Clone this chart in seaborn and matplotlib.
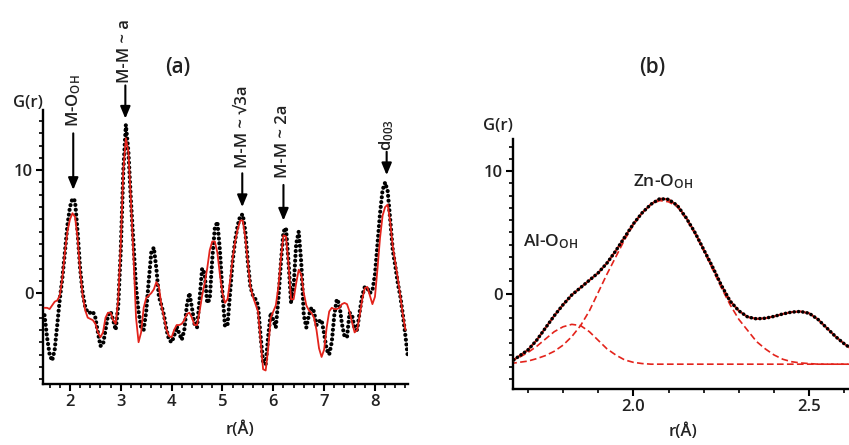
import numpy as np
import pandas as pd
import matplotlib
matplotlib.use("Agg")
import matplotlib.pyplot as plt
import seaborn as sns
from matplotlib.ticker import MultipleLocator, FixedLocator

# ---------------- data: panel (a) ----------------
r_a_start, r_a_step = 1.50, 0.05
g_exp_a = [
    -1.8, -3.6, -5.0, -5.5, -4.6, -2.6, -0.5, 1.2, 3.3, 5.5,
    7.0, 7.7, 7.5, 5.0, 2.0, 0.0, -1.1, -1.6, -1.6, -1.5,
    -2.0, -3.2, -4.3, -4.2, -3.0, -1.8, -1.5, -2.2, -3.0, -1.0,
    3.5, 10.0, 13.7, 11.5, 7.5, 4.0, 0.5, -1.5, -2.8, -3.0,
    -1.5, 1.0, 3.3, 3.7, 2.0, -0.3, -1.0, -1.8, -3.0, -3.8,
    -4.0, -3.5, -2.7, -3.3, -3.8, -3.0, -1.0, 0.0, -1.2, -2.5,
    -2.8, -0.5, 2.0, 1.6, -0.8, -0.5, 2.8, 5.3, 5.8, 3.5,
    0.0, -2.7, -2.6, 0.0, 2.6, 4.3, 5.5, 6.3, 6.4, 5.0,
    2.5, 0.5, -0.2, -0.5, -1.0, -3.5, -5.6, -5.8, -3.5, -1.6,
    -2.2, -2.8, -0.5, 2.5, 5.0, 5.3, 2.5, -0.8, 0.5, 4.0,
    5.0, 2.5, -1.8, -2.8, -1.8, -1.2, -1.5, -2.6, -2.3, -2.2,
    -3.3, -4.6, -5.0, -4.0, -1.8, -0.5, -0.9, -2.5, -3.5, -3.6,
    -1.6, -1.8, -2.9, -3.0, -1.5, -0.2, 0.5, 0.4, 0.0, 0.2,
    1.5, 4.0, 6.5, 8.4, 9.0, 8.3, 6.0, 3.5, 2.2, 0.8,
    -0.3, -1.8, -3.5, -5.3,
]
g_fit_a = [
    -1.2, -1.2, -1.3, -1.0, -0.7, -0.6, -0.2, 1.2, 3.3, 5.0,
    6.0, 6.5, 6.2, 4.5, 1.8, -0.2, -1.4, -2.0, -2.1, -2.2,
    -2.5, -3.2, -3.6, -3.2, -2.0, -1.6, -1.6, -2.2, -2.5, -0.5,
    4.0, 10.0, 12.6, 11.5, 7.5, 3.0, -2.0, -4.0, -3.2, -1.2,
    -0.4, -0.2, 0.0, 0.3, 0.9, 0.5, -1.0, -2.0, -3.0, -3.5,
    -3.6, -3.0, -2.6, -2.6, -2.5, -2.2, -1.7, -1.6, -2.0, -2.6,
    -2.6, -1.5, -0.2, 0.8, 2.0, 3.5, 4.2, 4.2, 3.3, 1.5,
    0.0, -0.8, -0.5, 1.0, 2.8, 4.2, 5.2, 5.9, 5.9, 4.5,
    2.5, 0.5, -0.3, -0.9, -1.5, -3.8, -6.2, -6.3, -4.5, -2.0,
    -1.5, -1.0, 0.5, 2.8, 4.7, 4.6, 2.3, -0.5, -0.5, 0.8,
    1.9, 1.5, 0.0, -1.0, -1.4, -1.6, -2.0, -3.0, -4.5, -5.2,
    -4.6, -2.8, -1.5, -1.2, -1.3, -1.3, -1.2, -0.9, -0.8, -0.9,
    -1.5, -2.4, -3.2, -3.0, -1.8, -0.5, 0.4, 0.5, -0.2, -0.9,
    -0.3, 2.0, 4.5, 6.3, 7.0, 7.2, 5.8, 3.8, 2.5, 1.2,
    -0.3, -1.8, -3.0,
]
xticks_a = [2, 3, 4, 5, 6, 7, 8]
yticks_a = [0, 10]

# ---------------- data: panel (b) ----------------
r_b_start, r_b_step = 1.650, 0.025
g_total_b = [
    -5.6, -5.1, -4.6, -3.8, -2.8, -1.8, -0.9, -0.1, 0.5, 1.1,
    1.7, 2.5, 3.5, 4.6, 5.7, 6.6, 7.3, 7.75, 7.7, 7.2,
    6.2, 5.0, 3.6, 2.2, 0.7, -0.6, -1.4, -1.9, -2.05, -2.0,
    -1.85, -1.65, -1.5, -1.45, -1.6, -2.1, -2.8, -3.5, -4.1, -4.6,
]
g_al_b = [
    -5.45, -5.2, -4.8, -4.3, -3.7, -3.1, -2.7, -2.5, -2.6, -3.1,
    -3.8, -4.5, -5.0, -5.4, -5.6, -5.7, -5.75, -5.75, -5.75, -5.75,
    -5.75, -5.75, -5.75, -5.75, -5.75, -5.75, -5.75, -5.75, -5.75, -5.75,
    -5.75, -5.75, -5.75, -5.75, -5.75, -5.75, -5.75, -5.75, -5.75, -5.75,
]
g_zn_b = [
    -5.7, -5.6, -5.5, -5.3, -5.05, -4.7, -4.2, -3.5, -2.6, -1.4,
    0.1, 1.6, 3.0, 4.4, 5.6, 6.6, 7.3, 7.6, 7.5, 7.1,
    6.1, 4.9, 3.5, 2.0, 0.5, -0.9, -2.1, -3.0, -3.9, -4.5,
    -5.0, -5.35, -5.55, -5.65, -5.7, -5.75, -5.75, -5.75, -5.75, -5.75,
]
xticks_b = [2.0, 2.5]
yticks_b = [0, 10]

r_exp_a = r_a_start + r_a_step * np.arange(len(g_exp_a))
r_fit_a = r_a_start + r_a_step * np.arange(len(g_fit_a))
r_b = r_b_start + r_b_step * np.arange(len(g_total_b))

df_exp_a = pd.DataFrame({"r": r_exp_a, "G": g_exp_a})
df_fit_a = pd.DataFrame({"r": r_fit_a, "G": g_fit_a})
df_b = pd.DataFrame({"r": r_b, "total": g_total_b, "al": g_al_b, "zn": g_zn_b})

# ---------------- style ----------------
sns.set_theme(style="ticks")
plt.rcParams["font.family"] = ["Open Sans", "DejaVu Sans"]
plt.rcParams["font.weight"] = "semibold"
plt.rcParams["mathtext.fontset"] = "custom"
plt.rcParams["mathtext.rm"] = "Open Sans:semibold"
plt.rcParams["mathtext.it"] = "Open Sans:italic"
plt.rcParams["mathtext.bf"] = "Open Sans:bold"
plt.rcParams["mathtext.default"] = "regular"

RED = "#e3231b"
TXT = "#222222"
W, H = 849, 445

fig = plt.figure(figsize=(W / 100, H / 100), dpi=100)
ax_a = fig.add_axes([43 / W, 1 - 384 / H, 365 / W, 274 / H])
ax_b = fig.add_axes([512.7 / W, 1 - 389.3 / H, 336.3 / W, 250 / H])

dot_style = dict(color="black", linewidth=3.0, linestyle=(0, (0.01, 1.15)),
                 dash_capstyle="round", estimator=None, sort=False)

# panel (a)
sns.lineplot(data=df_exp_a, x="r", y="G", ax=ax_a, zorder=2, **dot_style)
sns.lineplot(data=df_fit_a, x="r", y="G", ax=ax_a, color=RED, linewidth=1.3,
             estimator=None, sort=False, zorder=3)

# panel (b)
sns.lineplot(data=df_b, x="r", y="al", ax=ax_b, color=RED, linewidth=1.2,
             linestyle=(0, (4, 2)), estimator=None, sort=False, zorder=2)
sns.lineplot(data=df_b, x="r", y="zn", ax=ax_b, color=RED, linewidth=1.2,
             linestyle=(0, (4, 2)), estimator=None, sort=False, zorder=2)
sns.lineplot(data=df_b, x="r", y="total", ax=ax_b, color=RED, linewidth=1.6,
             estimator=None, sort=False, zorder=3)
sns.lineplot(data=df_b, x="r", y="total", ax=ax_b, zorder=4,
             **dict(dot_style, linewidth=2.6, linestyle=(0, (0.01, 1.2))))

for ax in (ax_a, ax_b):
    ax.spines[["top", "right"]].set_visible(False)
    for s in ("left", "bottom"):
        ax.spines[s].set_linewidth(1.7)
        ax.spines[s].set_color("black")
    ax.tick_params(which="major", direction="out", length=5, width=1.5,
                   labelsize=12, pad=2, colors="black", labelcolor=TXT)
    ax.tick_params(which="minor", direction="out", length=3, width=1.2, colors="black")
    ax.yaxis.set_major_locator(FixedLocator(yticks_a if ax is ax_a else yticks_b))
    ax.yaxis.set_minor_locator(MultipleLocator(1))
    ax.set_xlabel("")
    ax.set_ylabel("")

ax_a.set_xlim(1.47, 8.65)
ax_a.set_ylim(-7.4, 14.9)
ax_a.xaxis.set_major_locator(FixedLocator(xticks_a))
ax_a.xaxis.set_minor_locator(MultipleLocator(0.2))
ax_a.set_xticklabels([str(t) for t in xticks_a])
ax_a.set_yticklabels([str(t) for t in yticks_a])

ax_b.set_xlim(1.657, 2.613)
ax_b.set_ylim(-7.8, 12.6)
ax_b.xaxis.set_major_locator(FixedLocator(xticks_b))
ax_b.xaxis.set_minor_locator(MultipleLocator(0.1))
ax_b.set_xticklabels([f"{t:.1f}" for t in xticks_b])
ax_b.set_yticklabels([str(t) for t in yticks_b])

# annotations with arrows, panel (a)
arrow_kw = dict(arrowstyle="-|>,head_length=0.6,head_width=0.25", color="black",
                lw=1.5, shrinkA=0, shrinkB=0)
annots = [
    ("M-O$_{OH}$", 2.065, 13.5, 13.0, 8.4),
    ("M-M ~ a", 3.09, 17.1, 16.9, 14.2),
    ("M-M ~ \u221a3a", 5.39, 10.2, 9.75, 7.0),
    ("M-M ~ 2a", 6.20, 9.4, 8.8, 5.9),
    ("d$_{003}$", 8.23, 11.6, 11.5, 9.6),
]
for label, x, ytext, ytail, yhead in annots:
    ax_a.annotate("", xy=(x, yhead), xytext=(x, ytail), arrowprops=arrow_kw,
                  annotation_clip=False)
    ax_a.text(x, ytext, label, rotation=90, ha="center", va="bottom", fontsize=12,
              clip_on=False, color=TXT)

ax_b.text(2.085, 8.4, "Zn-O$_{OH}$", ha="center", va="bottom", fontsize=12.5, color=TXT)
ax_b.text(1.765, 3.5, "Al-O$_{OH}$", ha="center", va="bottom", fontsize=12.5, color=TXT)


def ftext(x, y, s, **kw):
    fig.text(x / W, 1 - y / H, s, color=TXT, **kw)


ftext(43, 103, "G(r)", ha="right", va="center", fontsize=12)
ftext(513, 126, "G(r)", ha="right", va="center", fontsize=12)
ftext(178, 68, "(a)", ha="center", va="center", fontsize=15)
ftext(652, 68, "(b)", ha="center", va="center", fontsize=15)
ftext(240, 430, "r(Å)", ha="center", va="center", fontsize=12)
ftext(683, 432, "r(Å)", ha="center", va="center", fontsize=12)

fig.savefig("out.png", dpi=100)
